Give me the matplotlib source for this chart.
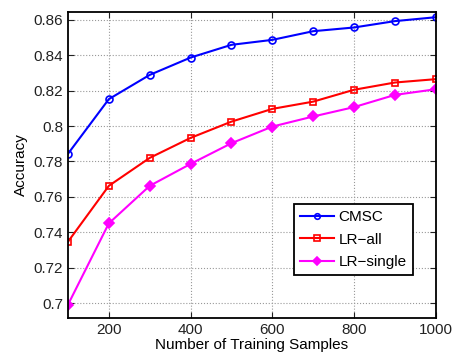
import matplotlib
matplotlib.use("Agg")
import matplotlib.pyplot as plt

# training set sizes
samples = [100, 200, 300, 400, 500, 600, 700, 800, 900, 1000]

# accuracy per method
cmsc = [0.7843, 0.8152, 0.8289, 0.8387, 0.8459, 0.8487, 0.8536, 0.8557, 0.8593, 0.8615]
lr_all = [0.7346, 0.7662, 0.782, 0.7933, 0.8025, 0.8097, 0.8138, 0.8205, 0.8246, 0.8265]
lr_single = [0.699, 0.745, 0.7662, 0.7786, 0.7903, 0.7997, 0.8054, 0.8107, 0.8176, 0.8208]

xticks = [200, 400, 600, 800, 1000]
yticks = [0.70, 0.72, 0.74, 0.76, 0.78, 0.80, 0.82, 0.84, 0.86]
ytick_labels = ['0.7', '0.72', '0.74', '0.76', '0.78', '0.8', '0.82', '0.84', '0.86']

plt.rcParams['font.family'] = ['Liberation Sans', 'DejaVu Sans']

fig = plt.figure(figsize=(4.53, 3.61), dpi=100)
ax = fig.add_axes([0.150, 0.119, 0.812, 0.848])

ax.plot(samples, cmsc, color='blue', marker='o', ms=5, mfc='none', mew=1.2, lw=1.5, label='CMSC')
ax.plot(samples, lr_all, color='red', marker='s', ms=5, mfc='none', mew=1.2, lw=1.5, label='LR\u2212all')
ax.plot(samples, lr_single, color='magenta', marker='D', ms=5, mfc='magenta', mew=1.2, lw=1.5, label='LR\u2212single')

ax.set_xlim(100, 1000)
ax.set_ylim(0.6915, 0.8645)
ax.set_xticks(xticks)
ax.set_yticks(yticks)
ax.set_yticklabels(ytick_labels)
ax.tick_params(direction='in', labelsize=11, length=4, top=True, right=True, colors='#222222')
ax.grid(True, linestyle=':', color='#999999', lw=0.8)
for s in ax.spines.values():
    s.set_linewidth(1.3)

ax.set_xlabel('Number of Training Samples', fontsize=11, labelpad=1)
ax.set_ylabel('Accuracy', fontsize=11, labelpad=4)

leg = ax.legend(loc='lower right', bbox_to_anchor=(0.958, 0.115), fontsize=11, fancybox=False,
                edgecolor='black', framealpha=1, handlelength=2.2, handletextpad=0.3,
                borderpad=0.4, labelspacing=0.55, markerscale=0.8)
leg.get_frame().set_linewidth(1.3)

fig.savefig('out.png', dpi=100)
